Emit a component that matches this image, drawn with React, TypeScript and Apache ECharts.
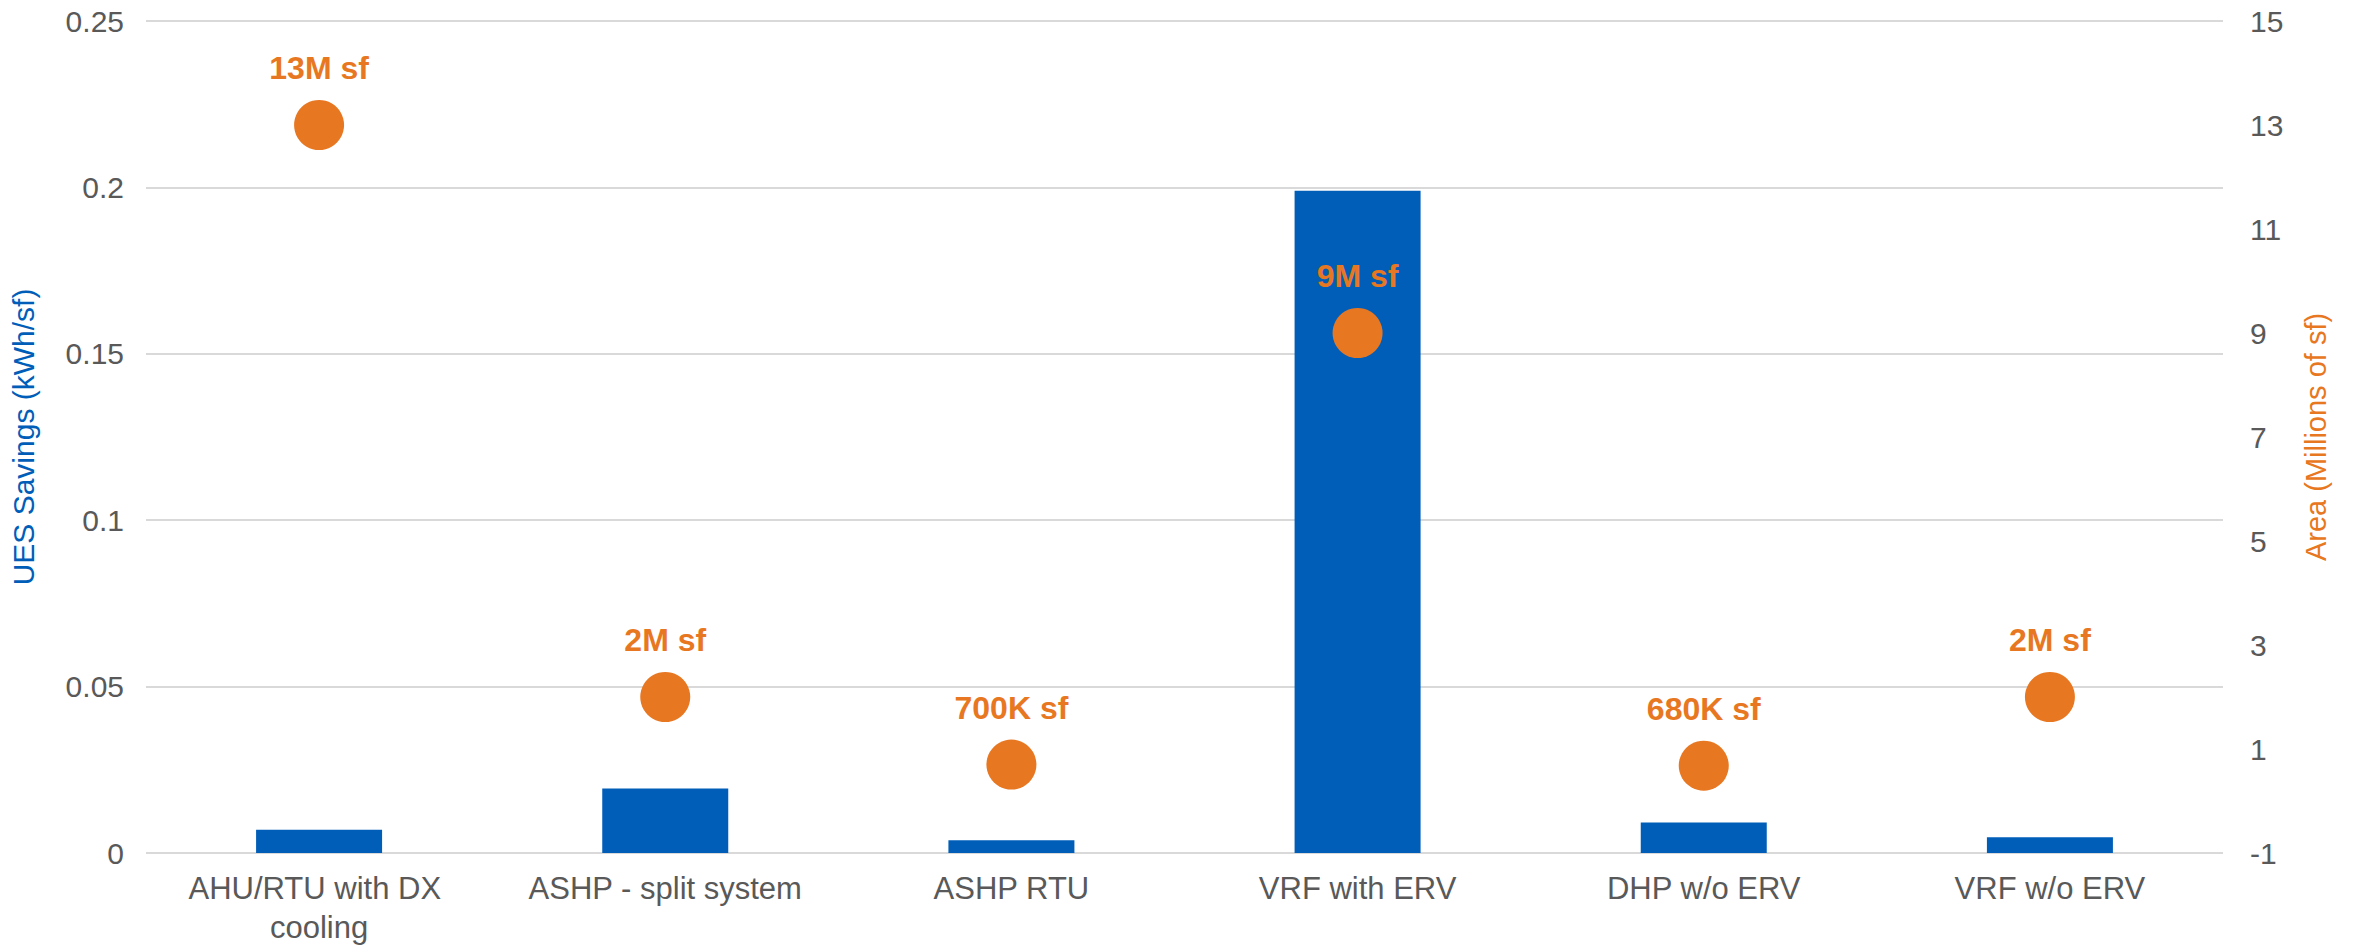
import React, { useEffect, useRef } from "react";
import * as echarts from "echarts";

const categories = [
  "AHU/RTU with DX cooling",
  "ASHP - split system",
  "ASHP RTU",
  "VRF with ERV",
  "DHP w/o ERV",
  "VRF w/o ERV",
];
const uesSavings = [0.007, 0.0194, 0.0038, 0.199, 0.0092, 0.0047];
const areaMillions = [13, 2, 0.7, 9, 0.68, 2];
const areaLabels = ["13M sf", "2M sf", "700K sf", "9M sf", "680K sf", "2M sf"];
const leftTicks = { min: 0, max: 0.25, interval: 0.05 };
const rightTicks = { min: -1, max: 15, interval: 2 };

const BLUE = "#005EB8";
const ORANGE = "#E87722";
const GRAY = "#595959";
const GRID = "#D9D9D9";
const FONT = "'Liberation Sans', Arial, sans-serif";

// right axis is drawn on a shifted scale so that ticks fall on odd numbers (-1, 1, 3, ...)
const shift = -rightTicks.min;

export default function App() {
  const ref = useRef<HTMLDivElement>(null);
  useEffect(() => {
    if (!ref.current) return;
    const chart = echarts.init(ref.current, undefined, { renderer: "svg" });
    chart.setOption({
      animation: false,
      backgroundColor: "#ffffff",
      grid: { left: 144, right: 134, top: 21, bottom: 93 },
      xAxis: {
        type: "category",
        data: categories,
        axisLine: { show: false },
        axisTick: { show: false },
        axisLabel: {
          interval: 0,
          color: GRAY,
          fontFamily: FONT,
          fontSize: 31,
          lineHeight: 39,
          margin: 16,
          width: 330,
          overflow: "break",
        },
      },
      yAxis: [
        {
          type: "value",
          min: leftTicks.min,
          max: leftTicks.max,
          interval: leftTicks.interval,
          name: "UES Savings (kWh/sf)",
          nameLocation: "middle",
          nameGap: 108,
          nameTextStyle: { color: BLUE, fontFamily: FONT, fontSize: 30 },
          axisLine: { show: false },
          axisTick: { show: false },
          axisLabel: { color: GRAY, fontFamily: FONT, fontSize: 30, margin: 22 },
          splitLine: { lineStyle: { color: GRID, width: 2 } },
        },
        {
          type: "value",
          min: rightTicks.min + shift,
          max: rightTicks.max + shift,
          interval: rightTicks.interval,
          name: "Area (Millions of sf)",
          nameLocation: "middle",
          nameGap: 78,
          nameRotate: 90,
          nameTextStyle: { color: ORANGE, fontFamily: FONT, fontSize: 29 },
          axisLine: { show: false },
          axisTick: { show: false },
          splitLine: { show: false },
          axisLabel: {
            color: GRAY,
            fontFamily: FONT,
            fontSize: 30,
            margin: 27,
            formatter: (v: number) => String(Math.round(v - shift)),
          },
        },
      ],
      series: [
        {
          type: "bar",
          yAxisIndex: 0,
          data: uesSavings,
          barWidth: "36.4%",
          itemStyle: { color: BLUE },
        },
        {
          type: "scatter",
          yAxisIndex: 1,
          data: areaMillions.map((v, i) => ({ value: [categories[i], v + shift] })),
          symbolSize: 50,
          itemStyle: { color: ORANGE, opacity: 1 },
          label: {
            show: true,
            position: "top",
            distance: 16,
            color: ORANGE,
            fontFamily: FONT,
            fontWeight: "bold",
            fontSize: 32,
            formatter: (p: any) => areaLabels[p.dataIndex],
          },
        },
      ],
    });
    return () => chart.dispose();
  }, []);
  return (
    <div
      ref={ref}
      style={{ position: "fixed", left: 0, top: 0, width: 2357, height: 947 }}
    />
  );
}
